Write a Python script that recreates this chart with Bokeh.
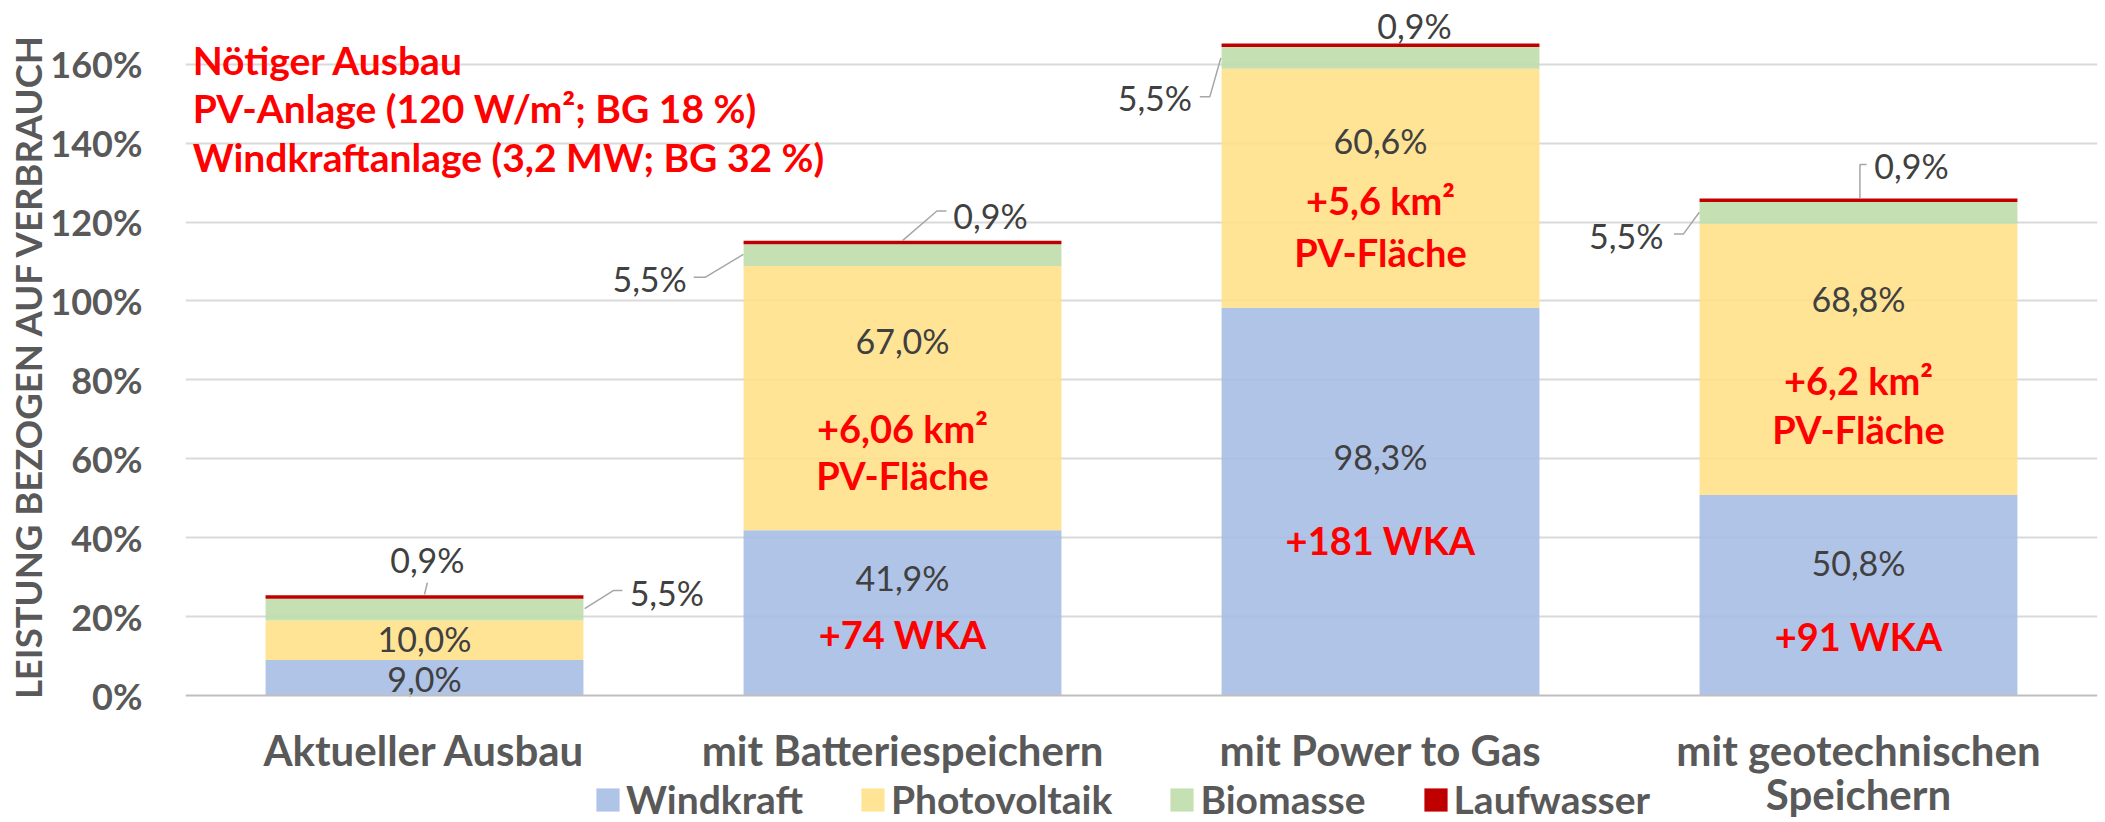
from bokeh.plotting import figure
from bokeh.models import Range1d, FixedTicker, Legend, LegendItem, ColumnDataSource, Span
from bokeh.core.properties import value
from bokeh.embed import file_html
from bokeh.resources import INLINE

# ---------------- data ----------------
categories = ["Aktueller Ausbau", "mit Batteriespeichern", "mit Power to Gas", "mit geotechnischen\nSpeichern"]
windkraft = [9.0, 41.9, 98.3, 50.8]
photovoltaik = [10.0, 67.0, 60.6, 68.8]
biomasse = [5.5, 5.5, 5.5, 5.5]
laufwasser = [0.9, 0.9, 0.9, 0.9]
series_names = ["Windkraft", "Photovoltaik", "Biomasse", "Laufwasser"]
wka_notes = ["", "+74 WKA", "+181 WKA", "+91 WKA"]
pv_notes = ["", "+6,06 km²", "+5,6 km²", "+6,2 km²"]
pv_notes2 = ["", "PV-Fläche", "PV-Fläche", "PV-Fläche"]
header_lines = ["Nötiger Ausbau", "PV-Anlage (120 W/m²; BG 18 %)", "Windkraftanlage (3,2 MW; BG 32 %)"]
y_ticks = [0, 20, 40, 60, 80, 100, 120, 140, 160]
y_title = "LEISTUNG BEZOGEN AUF VERBRAUCH"

# ---------------- label placement (annotation positions) ----------------
wind_label_y = [4.2, 29.9, 60.5, 33.8]
pv_label_y = [14.4, 90.0, 140.7, 100.6]
wka_y = [0, 15.5, 39.3, 15.2]
km_y = [0, 67.9, 125.5, 79.9]
flaeche_y = [0, 56.0, 112.4, 67.6]
bio_lab_dx = [0.507, -0.529, -0.472, -0.486]
bio_lab_y = [26.2, 105.6, 151.7, 116.6]
lw_lab_dx = [0.006, 0.184, 0.071, 0.111]
lw_lab_y = [34.4, 121.7, 169.8, 134.3]
bio_leader_dx = [[0.335, 0.395, 0.414], [-0.333, -0.413, -0.437], [-0.334, -0.357, -0.378], [-0.333, -0.366, -0.386]]
bio_leader_y = [[22.0, 26.6, 26.6], [111.8, 106.0, 106.0], [161.6, 151.8, 151.8], [122.5, 117.0, 117.0]]
lw_leader_dx = [[0.0, 0.006], [0.0, 0.072, 0.092], None, [0.003, 0.003, 0.017]]
lw_leader_y = [[25.6, 28.6], [115.3, 122.8, 122.8], None, [126.0, 134.6, 134.6]]
cat_line_y = [-13.9, -25.0]
header_x = -0.485
header_y = [161.0, 148.8, 136.4]

def pct(v):
    return f"{v:.1f}%".replace(".", ",")

x = list(range(len(categories)))

src = ColumnDataSource(dict(x=x, Windkraft=windkraft, Photovoltaik=photovoltaik,
                            Biomasse=biomasse, Laufwasser=laufwasser))

p = figure(width=2105, height=822, x_range=Range1d(-0.5, 3.5), y_range=Range1d(-32.19, 176.17),
           output_backend="svg", toolbar_location=None,
           min_border_left=185, min_border_right=8, min_border_top=0, min_border_bottom=0)
p.outline_line_color = None
p.background_fill_color = "white"

colors = ["#A5BCE4", "#FFE088", "#BDDCA9", "#C00000"]
rends = p.vbar_stack(series_names, x="x", width=0.665, source=src,
                     fill_color=colors, fill_alpha=[0.88, 0.88, 0.88, 1.0], line_color=None)

# axes & grid
p.xaxis.visible = False
p.xgrid.visible = False
p.ygrid.ticker = FixedTicker(ticks=y_ticks[1:])
p.ygrid.grid_line_color = "#D9D9D9"
p.ygrid.grid_line_width = 2
p.ygrid.level = "underlay"
p.add_layout(Span(location=0, dimension="width", line_color="#BFBFBF", line_width=2))

p.yaxis.ticker = FixedTicker(ticks=y_ticks)
p.yaxis.major_label_overrides = {t: f"{t}%" for t in y_ticks}
p.yaxis.axis_line_color = None
p.yaxis.major_tick_line_color = None
p.yaxis.minor_tick_line_color = None
p.yaxis.major_label_text_font = "Lato"
p.yaxis.major_label_text_font_style = "bold"
p.yaxis.major_label_text_font_size = "36px"
p.yaxis.major_label_text_color = "#595959"
p.yaxis.major_label_standoff = 37
# em-spaces shift the centred title towards the top, like the original
p.yaxis.axis_label = "\u2003\u2003\u2003\u2005" + y_title
p.yaxis.axis_label_text_font = "Lato"
p.yaxis.axis_label_text_font_style = "bold"
p.yaxis.axis_label_text_font_size = "36.5px"
p.yaxis.axis_label_text_color = "#595959"
p.yaxis.axis_label_standoff = -3

# category labels
cx, cy, ct = [], [], []
for i, c in enumerate(categories):
    for j, line in enumerate(c.split("\n")):
        cx.append(x[i]); cy.append(cat_line_y[j]); ct.append(line)
p.text(x=cx, y=cy, text=ct, text_align="center", text_baseline="middle",
       text_font=value("Lato"), text_font_style="bold", text_font_size="42px", text_color="#595959")

# value labels
val_src = ColumnDataSource(dict(
    x=x + x,
    y=wind_label_y + pv_label_y,
    t=[pct(v) for v in windkraft] + [pct(v) for v in photovoltaik]))
p.text(x="x", y="y", text="t", source=val_src, text_align="center", text_baseline="middle",
       text_font=value("Lato"), text_font_size="34px", text_color="#404040")

side_src = ColumnDataSource(dict(
    x=[x[i] + bio_lab_dx[i] for i in x] + [x[i] + lw_lab_dx[i] for i in x],
    y=bio_lab_y + lw_lab_y,
    t=[pct(v) for v in biomasse] + [pct(v) for v in laufwasser]))
p.text(x="x", y="y", text="t", source=side_src, text_align="center", text_baseline="middle",
       text_font=value("Lato"), text_font_size="34px", text_color="#404040")

# leader lines
xs, ys = [], []
for i in x:
    xs.append([x[i] + d for d in bio_leader_dx[i]]); ys.append(bio_leader_y[i])
    if lw_leader_dx[i] is not None:
        xs.append([x[i] + d for d in lw_leader_dx[i]]); ys.append(lw_leader_y[i])
p.multi_line(xs=xs, ys=ys, line_color="#A6A6A6", line_width=1.5)

# red notes inside bars
note_idx = [i for i in x if wka_notes[i]]
note_src = ColumnDataSource(dict(
    x=[x[i] for i in note_idx] * 3,
    y=[wka_y[i] for i in note_idx] + [km_y[i] for i in note_idx] + [flaeche_y[i] for i in note_idx],
    t=[wka_notes[i] for i in note_idx] + [pv_notes[i] for i in note_idx] + [pv_notes2[i] for i in note_idx]))
p.text(x="x", y="y", text="t", source=note_src, text_align="center", text_baseline="middle",
       text_font=value("Lato"), text_font_style="bold", text_font_size="38px", text_color="#FF0000")

# header text
hdr_src = ColumnDataSource(dict(x=[header_x] * 3, y=header_y, t=header_lines))
p.text(x="x", y="y", text="t", source=hdr_src, text_align="left", text_baseline="middle",
       text_font=value("Lato"), text_font_style="bold", text_font_size="39px", text_color="#FF0000")

# legend
legend = Legend(items=[LegendItem(label=n, renderers=[r]) for n, r in zip(series_names, rends)],
                orientation="horizontal", location=(408, 0),
                glyph_width=29, glyph_height=29, label_standoff=4, spacing=55,
                padding=0, margin=0, border_line_alpha=0, background_fill_alpha=0,
                label_text_font="Lato", label_text_font_style="bold",
                label_text_font_size="39px", label_text_color="#595959")
p.add_layout(legend, "center")

open("out.html", "w").write(file_html(p, INLINE))
